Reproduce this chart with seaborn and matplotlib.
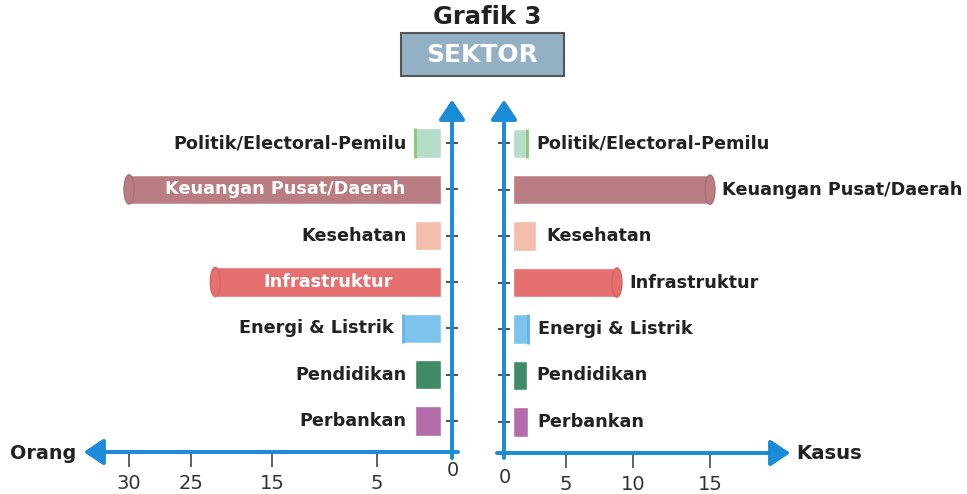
import numpy as np
import pandas as pd
import matplotlib
matplotlib.use('Agg')
import matplotlib.pyplot as plt
import seaborn as sns
from matplotlib.patches import Rectangle, Ellipse
from matplotlib.transforms import IdentityTransform

# data
sectors = ['Politik/Electoral-Pemilu', 'Keuangan Pusat/Daerah', 'Kesehatan',
           'Infrastruktur', 'Energi & Listrik', 'Pendidikan', 'Perbankan']
orang = [2, 30, 2, 22, 3, 2, 2]
kasus = [1.3, 15, 2.2, 8.8, 1.4, 1.3, 1.4]
orang_ticks = [5, 15, 25, 30]
kasus_ticks = [5, 10, 15]
colors = ['#B6DDC9', '#B97D82', '#F3BEAD', '#E6706F', '#7CC4EE', '#3F8B66', '#B46CAA']
cap_colors = ['#8CC96E', '#AC6F75', '#F3BEAD', '#D86364', '#62B3E6', '#3F8B66', '#B46CAA']

df = pd.DataFrame({'sektor': sectors, 'orang': orang, 'kasus': kasus})

sns.set_theme(style='white')
plt.rcParams['font.family'] = ['DejaVu Sans']

BLUE = '#1A8BD6'
W, H = 967, 494
fig = plt.figure(figsize=(W / 100, H / 100), dpi=100)


def piecewise(vals, px):
    # the infographic axis is not evenly spaced: map values through the tick spacing
    vals = np.asarray(vals, float)
    px = np.asarray(px, float)
    s0 = (px[1] - px[0]) / (vals[1] - vals[0])
    s1 = (px[-1] - px[-2]) / (vals[-1] - vals[-2])

    def fwd(v):
        v = np.asarray(v, float)
        out = np.interp(v, vals, px)
        out = np.where(v > vals[-1], px[-1] + (v - vals[-1]) * s1, out)
        return np.where(v < vals[0], px[0] + (v - vals[0]) * s0, out)

    def inv(p):
        p = np.asarray(p, float)
        out = np.interp(p, px, vals)
        out = np.where(p > px[-1], vals[-1] + (p - px[-1]) / s1, out)
        return np.where(p < px[0], vals[0] + (p - px[0]) / s0, out)

    return fwd, inv


def box(x0, y0, x1, y1):
    # pixel box (top-left origin) -> figure fraction
    return [x0 / W, 1 - y1 / H, (x1 - x0) / W, (y1 - y0) / H]


ax_l = fig.add_axes(box(85, 100, 441, 452))
ax_r = fig.add_axes(box(513, 100, 785, 453))

l_fwd, l_inv = piecewise([0, 5, 15, 25, 30], [0, 64, 169, 250, 312])
r_fwd, r_inv = piecewise([0, 5, 10, 15], [0, 53, 120, 197])

BAR_H = 0.63
sns.barplot(data=df, x='orang', y='sektor', hue='sektor', palette=colors,
            orient='h', width=BAR_H, legend=False, ax=ax_l, saturation=1)
sns.barplot(data=df, x='kasus', y='sektor', hue='sektor', palette=colors,
            orient='h', width=BAR_H, legend=False, ax=ax_r, saturation=1)

ax_l.set_xscale('function', functions=(l_fwd, l_inv))
ax_r.set_xscale('function', functions=(r_fwd, r_inv))
ax_l.set_xlim(float(l_inv(356)), 0)
ax_r.set_xlim(0, float(r_inv(272)))

n = len(sectors)
for ax in (ax_l, ax_r):
    ax.set_ylim(n - 1 + 0.67, -0.93)
    ax.set_xlabel('')
    ax.set_ylabel('')
    ax.set_yticks(range(n))
    ax.set_yticklabels([])
    for s in ax.spines.values():
        s.set_visible(False)
    ax.patch.set_alpha(0)
    ax.tick_params(axis='x', direction='out', length=11, width=1.3,
                   color='#555555', pad=5, labelsize=14, labelcolor='#333333',
                   bottom=True)
    ax.tick_params(axis='y', direction='inout', length=9, width=1.2,
                   color='#333333')
    ax.xaxis.set_minor_locator(matplotlib.ticker.NullLocator())

ax_l.set_xticks(orang_ticks)
ax_l.set_xticklabels([str(t) for t in orang_ticks])
ax_r.set_xticks(kasus_ticks)
ax_r.set_xticklabels([str(t) for t in kasus_ticks])

# y ticks sit on the blue vertical axes
ax_l.yaxis.tick_right()
ax_l.spines['right'].set_position(('outward', 11 * 0.72))
ax_r.yaxis.tick_left()
ax_r.spines['left'].set_position(('outward', 9 * 0.72))

# cylinder ends on the long bars, thin accent edge on the short ones
for ax, vals in ((ax_l, orang), (ax_r, kasus)):
    for i, v in enumerate(vals):
        x0, y0 = ax.transData.transform((v, i - BAR_H / 2))
        x1, y1 = ax.transData.transform((v, i + BAR_H / 2))
        if v > 5:
            ax.add_patch(Ellipse((x0, (y0 + y1) / 2), 10, abs(y1 - y0),
                                 transform=IdentityTransform(), facecolor=colors[i],
                                 edgecolor=cap_colors[i], lw=1, clip_on=False))
        elif cap_colors[i] != colors[i]:
            ax.vlines(v, i - BAR_H / 2, i + BAR_H / 2, color=cap_colors[i], lw=2)

# sector labels
lab_font = dict(fontsize=12.7, fontweight='bold', va='center')
for i, (name, v) in enumerate(zip(sectors, orang)):
    if v > 10:
        mid = float(l_inv(l_fwd(v) / 2))
        ax_l.text(mid, i, name, color='white', ha='center', **lab_font)
    else:
        ax_l.annotate(name, (v, i), xytext=(-9, 0), textcoords='offset pixels',
                      color='#222222', ha='right', **lab_font)
for i, (name, v) in enumerate(zip(sectors, kasus)):
    ax_r.annotate(name, (v, i), xytext=(12 if v > 5 else 10, 0),
                  textcoords='offset pixels', color='#222222', ha='left', **lab_font)

# blue arrow axes
arrow = dict(arrowstyle='-|>,head_length=0.6,head_width=0.4', color=BLUE,
             lw=2.6, mutation_scale=20, shrinkA=0, shrinkB=0)
for (x0, y0), (x1, y1) in [((452, 458), (452, 100)), ((458, 452), (84, 452)),
                           ((504, 458), (504, 100)), ((497, 453), (790, 453))]:
    fig.add_artist(plt.annotate('', xy=(x1, H - y1), xytext=(x0, H - y0),
                                xycoords='figure pixels', textcoords='figure pixels',
                                arrowprops=arrow, annotation_clip=False))

fig.text(76 / W, 1 - 453 / H, 'Orang', ha='right', va='center',
         fontsize=13.8, fontweight='bold', color='#222222')
fig.text(796 / W, 1 - 453 / H, 'Kasus', ha='left', va='center',
         fontsize=14.2, fontweight='bold', color='#222222')
fig.text(453 / W, 1 - 470 / H, '0', ha='center', va='center', fontsize=14, color='#333333')
fig.text(505 / W, 1 - 477 / H, '0', ha='center', va='center', fontsize=14, color='#333333')

# title and sector box
fig.text(487 / W, 1 - 17 / H, 'Grafik 3', ha='center', va='center',
         fontsize=17.5, fontweight='bold', color='#222222')
fig.add_artist(Rectangle((401 / W, 1 - 76 / H), 163 / W, 43 / H,
                         transform=fig.transFigure, facecolor='#93B0C4',
                         edgecolor='#555555', lw=1.5))
fig.text(482 / W, 1 - 55 / H, 'SEKTOR', ha='center', va='center',
         fontsize=18, fontweight='bold', color='white')

fig.savefig('out.png', dpi=100)
